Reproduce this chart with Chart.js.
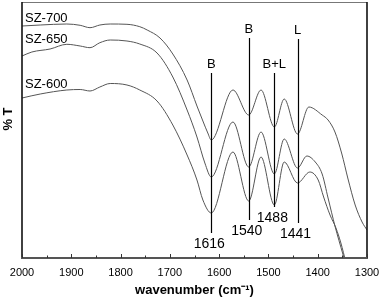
<!DOCTYPE html>
<html><head><meta charset="utf-8">
<script src="https://cdn.jsdelivr.net/npm/chart.js@4.4.1/dist/chart.umd.min.js"></script>
<style>html,body{margin:0;padding:0;background:#fff}</style>
</head><body>
<canvas id="c" width="380" height="298"></canvas>
<script>
// ---- data (wavenumber in cm-1, transmittance in arbitrary %T units) ----
const seriesNames = ['SZ-700', 'SZ-650', 'SZ-600'];

const wn700 = [2000,1963,1909,1882,1862,1842,1821,1787,1761,1746,1720,1694,1665,1645,1633,1623,1616,1572,1540,1515,1488,1468,1441,1418,1391,1379,1365,1351,1339,1324,1310,1300];
const t700  = [232,233,234,232.7,230.3,233,234,233.7,231.3,228,220,204,178,152,137,125,118,168,143,168,131,159,124,151,143,138,126,104,80,53,36,28];

const wn650 = [2000,1980,1943,1909,1882,1862,1842,1821,1787,1761,1726,1694,1665,1645,1629,1616,1572,1540,1515,1488,1468,1441,1422,1405,1391,1379,1365,1349,1343];
const t650  = [202,206,209,213.7,212,210.3,215.3,218,217,214,205,181,148,121,95,81,136,91,126,84,119,90,102,96,84,60,32,4,-6];

const wn600 = [2000,1963,1909,1882,1862,1842,1821,1787,1761,1726,1694,1665,1645,1633,1616,1572,1540,1515,1488,1468,1441,1416,1399,1388,1375,1363,1353,1343];
const t600  = [160,164,168,168.5,167,171,174.5,173,168,157,133,103,78,58,45,106,57,101,53,96,75,86,78,61,43,30,15,-4];

// band assignments
const bandWn     = [1616, 1540, 1488, 1441];
const bandNames  = ['B', 'B', 'B+L', 'L'];
const bandTop    = [185, 220, 185, 219];
const bandBottom = [25, 38, 51, 35];

const xTickValues = [2000,1900,1800,1700,1600,1500,1400,1300];

// ---- build ----
const FONT = "'Liberation Sans', Arial, sans-serif";
function pts(xs, ys){ return xs.map((v,i)=>({x:v, y:ys[i]})); }
const seriesData = [pts(wn700,t700), pts(wn650,t650), pts(wn600,t600)];

const overlay = {
  id: 'overlay',
  afterDatasetsDraw(chart, args, opts){
    const {ctx, chartArea:a, scales:{x, y}} = chart;
    ctx.save();
    // band lines
    ctx.strokeStyle = '#000'; ctx.lineWidth = 1.2;
    bandWn.forEach((w,i)=>{
      const px = Math.round(x.getPixelForValue(w)) + 0.5;
      ctx.beginPath();
      ctx.moveTo(px, y.getPixelForValue(bandTop[i]));
      ctx.lineTo(px, y.getPixelForValue(bandBottom[i]));
      ctx.stroke();
    });
    ctx.fillStyle = '#000';
    ctx.textAlign = 'center'; ctx.textBaseline = 'middle';
    ctx.font = '13px ' + FONT;
    bandWn.forEach((w,i)=>{
      ctx.fillText(bandNames[i], x.getPixelForValue(w), y.getPixelForValue(bandTop[i]) - 9);
    });
    ctx.font = '14px ' + FONT;
    bandWn.forEach((w,i)=>{
      ctx.fillText(String(w), x.getPixelForValue(w) - 2, y.getPixelForValue(bandBottom[i]) + 11);
    });
    // series labels
    ctx.textAlign = 'left'; ctx.font = '13px ' + FONT;
    opts.labelAt.forEach((p,i)=>{
      ctx.fillText(seriesNames[i], x.getPixelForValue(p[0]), y.getPixelForValue(p[1]));
    });
    // frame
    ctx.strokeStyle = '#777'; ctx.lineWidth = 1;
    ctx.beginPath(); ctx.moveTo(a.left, a.top + 0.5); ctx.lineTo(a.right, a.top + 0.5); ctx.stroke();
    ctx.strokeStyle = '#111'; ctx.lineWidth = 1.6;
    ctx.beginPath(); ctx.moveTo(a.left, a.top); ctx.lineTo(a.left, a.bottom); ctx.stroke();
    ctx.beginPath(); ctx.moveTo(a.right, a.top); ctx.lineTo(a.right, a.bottom); ctx.stroke();
    ctx.strokeStyle = '#555'; ctx.lineWidth = 2;
    ctx.beginPath(); ctx.moveTo(a.left - 1, a.bottom); ctx.lineTo(a.right + 1, a.bottom); ctx.stroke();
    // inward ticks (major every 100, minor every 50)
    ctx.lineWidth = 1; ctx.strokeStyle = '#333';
    for (let v = x.min; v <= x.max; v += 50){
      const px = Math.round(x.getPixelForValue(v)) + 0.5;
      const len = (v % 100 === 0) ? 4 : 2.5;
      ctx.beginPath(); ctx.moveTo(px, a.bottom); ctx.lineTo(px, a.bottom - len); ctx.stroke();
    }
    // y title
    ctx.save();
    ctx.translate(8, opts.yTitleY);
    ctx.rotate(-Math.PI/2);
    ctx.textAlign = 'center'; ctx.textBaseline = 'middle';
    ctx.font = 'bold 13px ' + FONT;
    ctx.fillText('% T', 0, 0);
    ctx.restore();
    ctx.restore();
  }
};

new Chart(document.getElementById('c'), {
  type: 'line',
  data: {
    datasets: seriesData.map((d,i)=>({
      label: seriesNames[i],
      data: d,
      borderColor: '#555',
      borderWidth: 1,
      pointRadius: 0,
      fill: false,
      cubicInterpolationMode: 'monotone'
    }))
  },
  options: {
    responsive: false,
    animation: false,
    devicePixelRatio: 1,
    layout: { padding: { left: 22, right: 13, top: 2, bottom: 0 } },
    plugins: {
      legend: { display: false },
      tooltip: { enabled: false },
      overlay: { labelAt: [[1994, 240], [1994, 219], [1994, 174]], yTitleY: 119 }
    },
    scales: {
      x: {
        type: 'linear',
        reverse: true,
        min: 1300, max: 2000,
        afterBuildTicks: (s) => { s.ticks = xTickValues.map(v=>({value:v})); },
        afterFit: (s) => { s.height = 40; s.paddingLeft = 0; s.paddingRight = 0; },
        grid: { display: false, drawTicks: false },
        border: { display: false },
        ticks: {
          padding: 8,
          color: '#000',
          font: { size: 11, family: FONT },
          callback: (v) => String(v),
          maxRotation: 0
        },
        title: {
          display: true,
          text: 'wavenumber (cm⁻¹)',
          color: '#000',
          font: { size: 13, weight: 'bold', family: FONT },
          padding: { top: 0, bottom: 0 }
        }
      },
      y: {
        display: false,
        min: 0, max: 256
      }
    }
  },
  plugins: [overlay]
});
</script>
</body></html>
